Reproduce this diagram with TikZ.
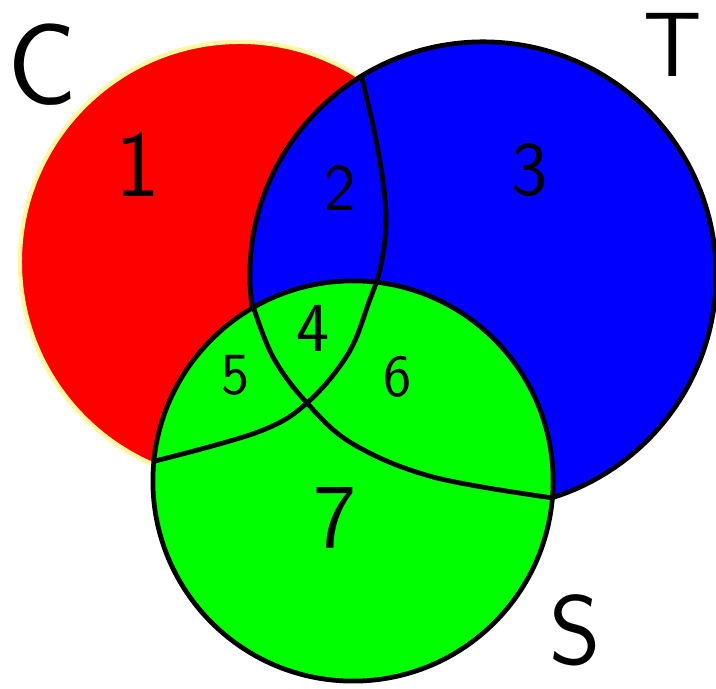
\documentclass[tikz,border=0pt]{standalone}
\usepackage{xcolor}
\definecolor{setred}{RGB}{255,0,0}
\definecolor{setblue}{RGB}{0,0,255}
\definecolor{setgreen}{RGB}{0,255,0}
\definecolor{rim}{RGB}{255,248,160}

\begin{document}
\begin{tikzpicture}[
  x=0.01cm, y=-0.01cm,
  outline/.style={draw=black, line width=1.35pt},
  divider/.style={black, line width=1.35pt, line cap=round},
  num/.style={font=\fontsize{#1}{#1}\selectfont\sffamily, inner sep=0pt}
]
\useasboundingbox (0,0) rectangle (716,689);

% the three sets
\coordinate (cC) at (240,262);
\coordinate (cT) at (483,275);
\coordinate (cS) at (353,481);
\fill[setred, draw=rim, line width=1.2pt] (cC) circle[radius=2.2cm];
\filldraw[fill=setblue, outline] (cT) circle[radius=2.33cm];
\filldraw[fill=setgreen, outline] (cS) circle[radius=2cm];

% boundaries drawn by hand
\draw[divider] plot[smooth, tension=0.6] coordinates {(362,78) (378,150) (386,215) (381,265) (369,302) (348,354) (307,403) (258,432) (155,461)};
\draw[divider] plot[smooth, tension=0.6] coordinates {(252,303) (273,357) (307,403) (353,444) (433,477) (553,498)};

% set names
\node[num=33] (nameC) at (42,65) {C};
\node[num=26] (nameT) at (673,45) {T};
\node[num=28] (nameS) at (575,630) {S};

% regions
\node[num=27] (r1) at (138,165) {1};
\node[num=19] (r2) at (340,188) {2};
\node[num=22] (r3) at (530,170) {3};
\node[num=20] (r4) at (313,328) {4};
\node[num=17] (r5) at (236,375) {5};
\node[num=17] (r6) at (398,377) {6};
\node[num=26] (r7) at (335,518) {7};
\end{tikzpicture}
\end{document}
